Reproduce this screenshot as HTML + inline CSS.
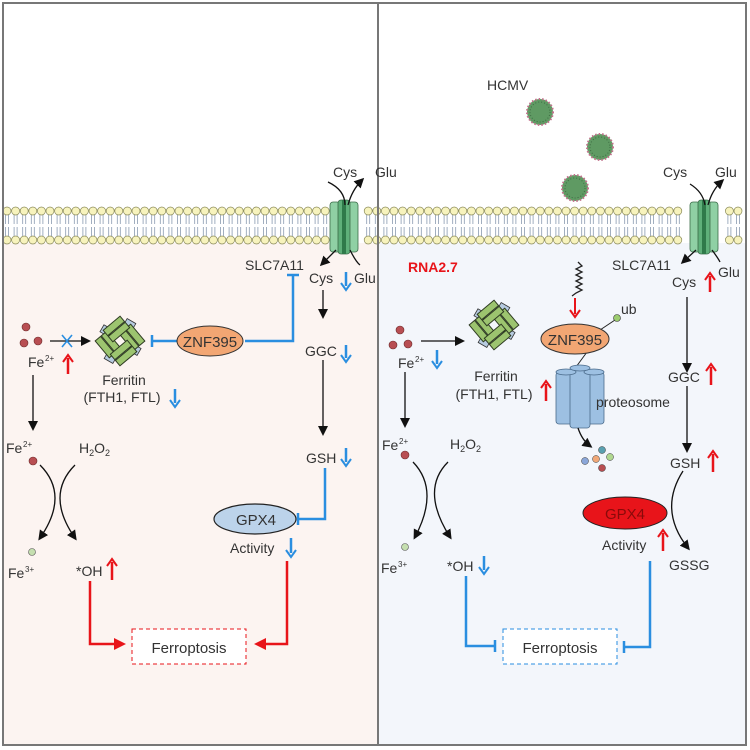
<!DOCTYPE html>
<html><head><meta charset="utf-8"><style>
html,body{margin:0;padding:0;background:#fff}
svg{display:block}
text{font-family:"Liberation Sans",sans-serif;fill:#333}
</style></head><body>
<svg width="750" height="750" viewBox="0 0 750 750" xmlns="http://www.w3.org/2000/svg">
<defs>
<g id="ferr">
<rect x="-22" y="-6" width="10" height="8" fill="#b6cbe0" stroke="#333" stroke-width="0.8" transform="rotate(30)"/>
<rect x="12" y="-4" width="10" height="8" fill="#b6cbe0" stroke="#333" stroke-width="0.8" transform="rotate(30)"/>
<rect x="-5" y="-23" width="10" height="8" fill="#b6cbe0" stroke="#333" stroke-width="0.8" transform="rotate(30)"/>
<rect x="-5" y="15" width="10" height="8" fill="#b6cbe0" stroke="#333" stroke-width="0.8" transform="rotate(30)"/>
<g transform="rotate(-40)" stroke="#2e3b22" stroke-width="1" fill="#9cc46f">
<rect x="-19" y="-16" width="7" height="22"/><rect x="-11" y="-16" width="7" height="22"/>
<rect x="4" y="-6" width="7" height="22"/><rect x="12" y="-6" width="7" height="22"/>
<rect x="-6" y="-19" width="22" height="7"/><rect x="-6" y="-11" width="22" height="7"/>
<rect x="-16" y="4" width="22" height="7"/><rect x="-16" y="12" width="22" height="7"/>
</g>
</g>
<g id="trans">
<rect x="0" y="0" width="10" height="50" rx="3" fill="#8fd0a4" stroke="#3b6b48" stroke-width="0.8"/>
<rect x="18" y="0" width="10" height="50" rx="3" fill="#8fd0a4" stroke="#3b6b48" stroke-width="0.8"/>
<rect x="8" y="-2" width="12" height="54" rx="3" fill="#5fb07a" stroke="#3b6b48" stroke-width="0.8"/>
<rect x="12" y="-2" width="4" height="54" fill="#2f7a4a"/>
</g>
<g id="virus">
<circle r="13" fill="#5f9a63" stroke="#c0708a" stroke-width="2" stroke-dasharray="1.5 2"/>
<circle r="10" fill="none" stroke="#3d6b42" stroke-width="1" stroke-dasharray="1 2"/>
</g>
<marker id="ab" markerWidth="10" markerHeight="10" refX="7" refY="5" orient="auto" markerUnits="userSpaceOnUse"><path d="M0 0 L10 5 L0 10 Z" fill="#111"/></marker>
<marker id="ar" markerWidth="12" markerHeight="12" refX="8" refY="6" orient="auto" markerUnits="userSpaceOnUse"><path d="M0 0 L12 6 L0 12 Z" fill="#e8141a"/></marker>
</defs>

<rect x="3" y="243" width="375" height="502" fill="#fcf4f1"/>
<rect x="378" y="243" width="368" height="502" fill="#f3f6fb"/>
<g id="tails" stroke="#8a9bb0" stroke-width="0.8" fill="none"></g>
<g fill="#f7f3bd" stroke="#8a8a5a" stroke-width="0.7" id="heads"></g>
<rect x="3" y="3" width="743" height="742" fill="none" stroke="#777" stroke-width="2"/>
<line x1="378" y1="3" x2="378" y2="745" stroke="#777" stroke-width="2"/>

<use href="#trans" x="330" y="202"/>
<use href="#trans" x="690" y="202"/>

<g font-size="14">
<!-- LEFT PANEL -->
<text x="333" y="177">Cys</text><text x="375" y="177">Glu</text>
<path d="M328 182 Q345 190 345 205" fill="none" stroke="#111" stroke-width="1.3"/>
<path d="M348 205 Q352 190 362 180" fill="none" stroke="#111" stroke-width="1.3" marker-end="url(#ab)"/>
<path d="M336 250 L322 264" fill="none" stroke="#111" stroke-width="1.3" marker-end="url(#ab)"/>
<path d="M350 250 Q356 262 360 265" fill="none" stroke="#111" stroke-width="1.3"/>
<text x="245" y="270">SLC7A11</text>
<text x="309" y="283">Cys</text><text x="354" y="283">Glu</text>
<path d="M346 272 V286" stroke="#2a8ee0" stroke-width="2.5"/><path d="M341 283 L346 290 L351 283" fill="none" stroke="#2a8ee0" stroke-width="2"/>

<path d="M293 275 V341 H245 M212 341 H152 M152 335 V347 M287 275 H299" fill="none" stroke="#2a8ee0" stroke-width="2.5"/>
<ellipse cx="210" cy="341" rx="33" ry="15" fill="#f2a673" stroke="#333" stroke-width="1"/>
<text x="210" y="347" font-size="15" text-anchor="middle">ZNF395</text>
<use href="#ferr" x="120" y="341"/>
<circle cx="26" cy="327" r="4" fill="#b84e52" stroke="#6a2a2a" stroke-width="0.6"/>
<circle cx="24" cy="343" r="4" fill="#b84e52" stroke="#6a2a2a" stroke-width="0.6"/>
<circle cx="38" cy="341" r="4" fill="#b84e52" stroke="#6a2a2a" stroke-width="0.6"/>
<path d="M50 341 H88" stroke="#111" stroke-width="1.3" marker-end="url(#ab)"/>
<path d="M62 335 L72 347 M72 335 L62 347" stroke="#2a8ee0" stroke-width="1.6"/>
<text x="28" y="367">Fe</text><text x="45" y="361" font-size="8">2+</text>
<path d="M68 374 V358" stroke="#e8141a" stroke-width="2.5"/><path d="M63 362 L68 355 L73 362" fill="none" stroke="#e8141a" stroke-width="2"/>
<text x="124" y="385" text-anchor="middle">Ferritin</text>
<text x="122" y="402" text-anchor="middle">(FTH1, FTL)</text>
<path d="M175 389 V403" stroke="#2a8ee0" stroke-width="2.5"/><path d="M170 400 L175 407 L180 400" fill="none" stroke="#2a8ee0" stroke-width="2"/>

<path d="M33 375 V428" stroke="#111" stroke-width="1.3" marker-end="url(#ab)"/>
<text x="6" y="453">Fe</text><text x="23" y="447" font-size="8">2+</text>
<circle cx="33" cy="461" r="4" fill="#b84e52" stroke="#6a2a2a" stroke-width="0.6"/>
<text x="79" y="453">H<tspan font-size="9" dy="3">2</tspan><tspan dy="-3">O</tspan><tspan font-size="9" dy="3">2</tspan></text>
<path d="M40 465 Q70 495 40 538" fill="none" stroke="#111" stroke-width="1.3" marker-end="url(#ab)"/>
<path d="M75 465 Q45 495 75 538" fill="none" stroke="#111" stroke-width="1.3" marker-end="url(#ab)"/>
<circle cx="32" cy="552" r="3.5" fill="#c5dfb0" stroke="#555" stroke-width="0.6"/>
<text x="8" y="578">Fe</text><text x="25" y="572" font-size="8">3+</text>
<text x="76" y="576">*OH</text>
<path d="M112 580 V562" stroke="#e8141a" stroke-width="2.5"/><path d="M107 566 L112 559 L117 566" fill="none" stroke="#e8141a" stroke-width="2"/>
<path d="M90 581 V644 H122" fill="none" stroke="#e8141a" stroke-width="2.5" marker-end="url(#ar)"/>
<path d="M287 561 V644 H258" fill="none" stroke="#e8141a" stroke-width="2.5" marker-end="url(#ar)"/>
<rect x="132" y="629" width="114" height="35" fill="#fff" stroke="#e8141a" stroke-width="1" stroke-dasharray="4 3"/>
<text x="189" y="653" font-size="15" text-anchor="middle">Ferroptosis</text>

<path d="M323 290 V316" stroke="#111" stroke-width="1.3" marker-end="url(#ab)"/>
<text x="305" y="356">GGC</text>
<path d="M346 345 V358" stroke="#2a8ee0" stroke-width="2.5"/><path d="M341 355 L346 362 L351 355" fill="none" stroke="#2a8ee0" stroke-width="2"/>
<path d="M323 360 V433" stroke="#111" stroke-width="1.3" marker-end="url(#ab)"/>
<text x="306" y="463">GSH</text>
<path d="M346 448 V462" stroke="#2a8ee0" stroke-width="2.5"/><path d="M341 459 L346 466 L351 459" fill="none" stroke="#2a8ee0" stroke-width="2"/>
<path d="M325 468 V519 H298 M298 513 V525" fill="none" stroke="#2a8ee0" stroke-width="2.5"/>
<ellipse cx="255" cy="519" rx="41" ry="15" fill="#bcd3ea" stroke="#222" stroke-width="1.2"/>
<text x="256" y="525" font-size="15" text-anchor="middle">GPX4</text>
<text x="230" y="553">Activity</text>
<path d="M291 538 V553" stroke="#2a8ee0" stroke-width="2.5"/><path d="M286 550 L291 557 L296 550" fill="none" stroke="#2a8ee0" stroke-width="2"/>

<!-- RIGHT PANEL -->
<text x="487" y="90">HCMV</text>
<use href="#virus" x="540" y="112"/>
<use href="#virus" x="600" y="147"/>
<use href="#virus" x="575" y="188"/>
<text x="663" y="177">Cys</text><text x="715" y="177">Glu</text>
<path d="M690 184 Q703 192 705 205" fill="none" stroke="#111" stroke-width="1.3"/>
<path d="M708 205 Q712 190 722 181" fill="none" stroke="#111" stroke-width="1.3" marker-end="url(#ab)"/>
<path d="M696 250 L683 262" fill="none" stroke="#111" stroke-width="1.3" marker-end="url(#ab)"/>
<path d="M712 250 Q718 258 720 262" fill="none" stroke="#111" stroke-width="1.3"/>
<text x="612" y="270">SLC7A11</text>
<text x="718" y="277">Glu</text>
<text x="672" y="287">Cys</text>
<path d="M710 292 V276" stroke="#e8141a" stroke-width="2.5"/><path d="M705 280 L710 273 L715 280" fill="none" stroke="#e8141a" stroke-width="2"/>
<text x="408" y="272" font-weight="bold" style="fill:#e8141a">RNA2.7</text>
<path d="M578 262 l4 4 l-6 3 l6 3 l-6 3 l6 3 l-6 3 l6 3 l-6 3 l6 3 l-6 3 l-4 3" fill="none" stroke="#222" stroke-width="1.3"/>
<path d="M575 298 V314" stroke="#e8141a" stroke-width="2"/><path d="M570 310 L575 317 L580 310" fill="none" stroke="#e8141a" stroke-width="2"/>
<line x1="600" y1="330" x2="615" y2="320" stroke="#222" stroke-width="1"/>
<circle cx="617" cy="318" r="3.5" fill="#9ccc6f" stroke="#333" stroke-width="0.6"/>
<text x="621" y="314">ub</text>
<line x1="587" y1="352" x2="576" y2="367" stroke="#222" stroke-width="1"/>
<g fill="#9dc0e2" stroke="#4a6a8a" stroke-width="0.8">
<rect x="556" y="372" width="20" height="52" rx="3"/><rect x="584" y="372" width="20" height="52" rx="3"/>
<rect x="570" y="368" width="20" height="60" rx="3"/>
<ellipse cx="566" cy="372" rx="10" ry="3"/><ellipse cx="594" cy="372" rx="10" ry="3"/><ellipse cx="580" cy="368" rx="10" ry="3"/>
</g>
<ellipse cx="575" cy="339" rx="34" ry="15" fill="#f2a673" stroke="#333" stroke-width="1"/>
<text x="575" y="345" font-size="15" text-anchor="middle">ZNF395</text>
<text x="596" y="407">proteosome</text>
<path d="M578 428 Q582 440 590 446" fill="none" stroke="#111" stroke-width="1.3" marker-end="url(#ab)"/>
<circle cx="602" cy="450" r="3.5" fill="#5aa0b0" stroke="#333" stroke-width="0.5"/>
<circle cx="585" cy="461" r="3.5" fill="#8aa6d8" stroke="#333" stroke-width="0.5"/>
<circle cx="596" cy="459" r="3.5" fill="#f0a878" stroke="#333" stroke-width="0.5"/>
<circle cx="610" cy="457" r="3.5" fill="#b0d890" stroke="#333" stroke-width="0.5"/>
<circle cx="602" cy="468" r="3.5" fill="#b84e52" stroke="#333" stroke-width="0.5"/>

<use href="#ferr" x="494" y="325"/>
<circle cx="400" cy="330" r="4" fill="#b84e52" stroke="#6a2a2a" stroke-width="0.6"/>
<circle cx="393" cy="345" r="4" fill="#b84e52" stroke="#6a2a2a" stroke-width="0.6"/>
<circle cx="408" cy="344" r="4" fill="#b84e52" stroke="#6a2a2a" stroke-width="0.6"/>
<path d="M421 341 H462" stroke="#111" stroke-width="1.3" marker-end="url(#ab)"/>
<text x="398" y="368">Fe</text><text x="415" y="362" font-size="8">2+</text>
<path d="M437 350 V364" stroke="#2a8ee0" stroke-width="2.5"/><path d="M432 361 L437 368 L442 361" fill="none" stroke="#2a8ee0" stroke-width="2"/>
<text x="496" y="381" text-anchor="middle">Ferritin</text>
<text x="494" y="399" text-anchor="middle">(FTH1, FTL)</text>
<path d="M546 401 V384" stroke="#e8141a" stroke-width="2.5"/><path d="M541 388 L546 381 L551 388" fill="none" stroke="#e8141a" stroke-width="2"/>

<path d="M405 372 V425" stroke="#111" stroke-width="1.3" marker-end="url(#ab)"/>
<text x="382" y="450">Fe</text><text x="399" y="444" font-size="8">2+</text>
<circle cx="405" cy="455" r="4" fill="#b84e52" stroke="#6a2a2a" stroke-width="0.6"/>
<text x="450" y="449">H<tspan font-size="9" dy="3">2</tspan><tspan dy="-3">O</tspan><tspan font-size="9" dy="3">2</tspan></text>
<path d="M413 462 Q440 490 415 537" fill="none" stroke="#111" stroke-width="1.3" marker-end="url(#ab)"/>
<path d="M448 462 Q420 490 450 537" fill="none" stroke="#111" stroke-width="1.3" marker-end="url(#ab)"/>
<circle cx="405" cy="547" r="3.5" fill="#c5dfb0" stroke="#555" stroke-width="0.6"/>
<text x="381" y="573">Fe</text><text x="398" y="567" font-size="8">3+</text>
<text x="447" y="571">*OH</text>
<path d="M484 556 V570" stroke="#2a8ee0" stroke-width="2.5"/><path d="M479 567 L484 574 L489 567" fill="none" stroke="#2a8ee0" stroke-width="2"/>
<path d="M466 576 V646 H495 M495 640 V652" fill="none" stroke="#2a8ee0" stroke-width="2.5"/>
<path d="M650 561 V647 H624 M624 641 V653" fill="none" stroke="#2a8ee0" stroke-width="2.5"/>
<rect x="503" y="629" width="114" height="35" fill="#fff" stroke="#2a8ee0" stroke-width="1" stroke-dasharray="4 3"/>
<text x="560" y="653" font-size="15" text-anchor="middle">Ferroptosis</text>

<path d="M687 297 V370" stroke="#111" stroke-width="1.3" marker-end="url(#ab)"/>
<text x="668" y="382">GGC</text>
<path d="M711 385 V367" stroke="#e8141a" stroke-width="2.5"/><path d="M706 371 L711 364 L716 371" fill="none" stroke="#e8141a" stroke-width="2"/>
<path d="M687 386 V450" stroke="#111" stroke-width="1.3" marker-end="url(#ab)"/>
<text x="670" y="468">GSH</text>
<path d="M713 472 V454" stroke="#e8141a" stroke-width="2.5"/><path d="M708 458 L713 451 L718 458" fill="none" stroke="#e8141a" stroke-width="2"/>
<path d="M683 471 Q658 510 688 548" fill="none" stroke="#111" stroke-width="1.3" marker-end="url(#ab)"/>
<text x="669" y="570">GSSG</text>
<ellipse cx="625" cy="513" rx="42" ry="16" fill="#e8141a" stroke="#222" stroke-width="1"/>
<text x="625" y="519" font-size="15" text-anchor="middle" style="fill:#8a0a0a">GPX4</text>
<text x="602" y="550">Activity</text>
<path d="M663 551 V533" stroke="#e8141a" stroke-width="2.5"/><path d="M658 537 L663 530 L668 537" fill="none" stroke="#e8141a" stroke-width="2"/>
</g>
</svg>
<script>
var g=document.getElementById('heads');var t=document.getElementById('tails');var s='',u='';
for(var x=7;x<746;x+=8.6){
 if((x>326&&x<362)||(x>686&&x<722))continue;
 var a=x.toFixed(1);
 s+='<circle cx="'+a+'" cy="211" r="4"/><circle cx="'+a+'" cy="240" r="4"/>';
 u+='M'+(x-1.5).toFixed(1)+' 215V224M'+(x+1.5).toFixed(1)+' 215V224M'+(x-1.5).toFixed(1)+' 227V236M'+(x+1.5).toFixed(1)+' 227V236';
}
g.innerHTML=s;
t.innerHTML='<path d="'+u+'"/>';
</script>
</body></html>
